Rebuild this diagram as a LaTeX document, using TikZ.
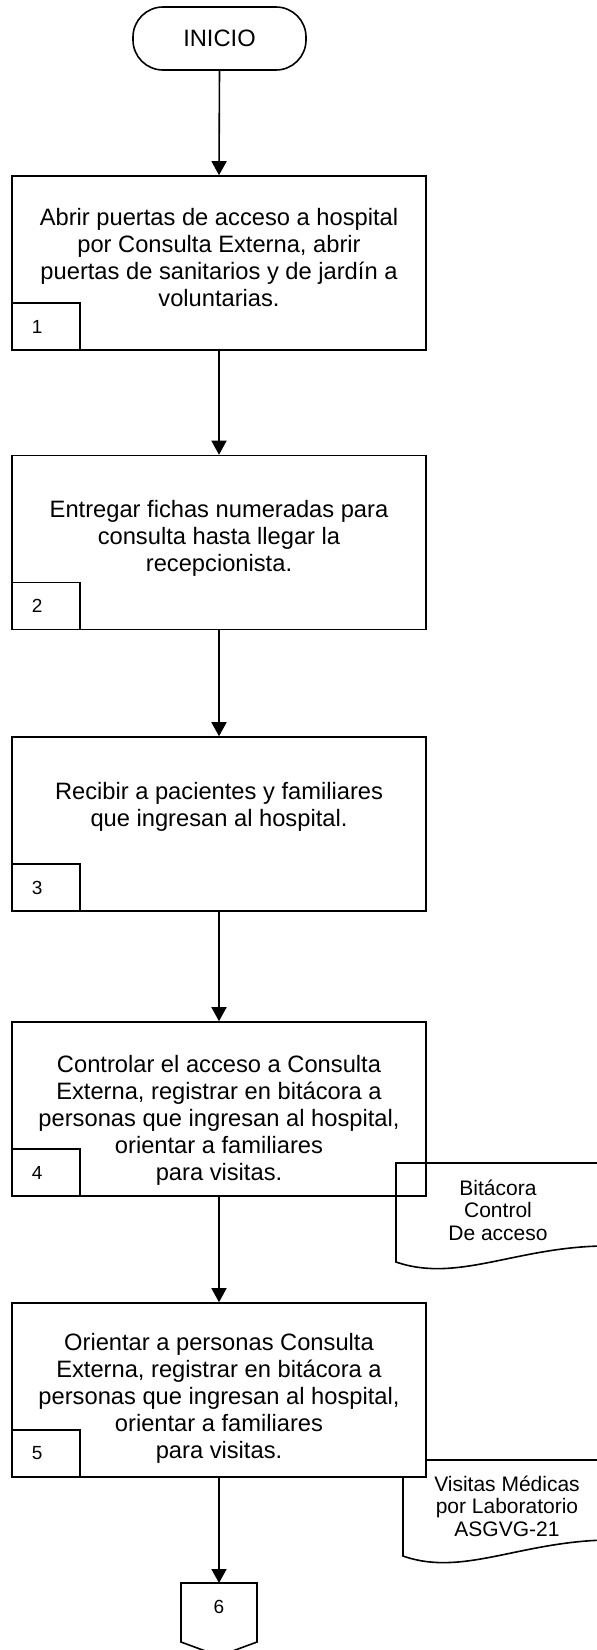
\documentclass[tikz,border=0pt]{standalone}
\usepackage{fontspec}
\setmainfont{Liberation Sans}
\usetikzlibrary{arrows.meta,calc}
\begin{document}
\begin{tikzpicture}[x=1pt,y=-1pt,
  line width=1.6pt,
  stepbox/.style={draw,rectangle,minimum width=414pt,minimum height=174pt,inner sep=0pt,fill=white},
  steptxt/.style={align=center,font=\fontsize{23.7}{27}\selectfont,inner sep=0pt},
  numbox/.style={draw,rectangle,minimum width=68pt,minimum height=47pt,inner sep=0pt},
  numtxt/.style={font=\fontsize{19}{22}\selectfont,inner sep=0pt},
  doctxt/.style={align=center,font=\fontsize{21}{22.5}\selectfont,inner sep=0pt},
  termbox/.style={draw,rectangle,rounded corners=30pt,minimum width=173pt,minimum height=63pt,inner sep=0pt,font=\fontsize{23.7}{27}\selectfont},
  arr/.style={-{Triangle[width=15pt,length=14pt]}},
]
\useasboundingbox (0,0) rectangle (597,1650);

% terminator
\node[termbox] (T) at (219.5,38.5) {INICIO};

% step 1
\node[stepbox] (B1) at (219,263) {};
\node[steptxt] (t1) at (219,258) {Abrir puertas de acceso a hospital\\por Consulta Externa, abrir\\puertas de sanitarios y de jardín a\\voluntarias.};
\node[numbox,anchor=south west] (n1) at (B1.south west) {};
\node[numtxt] at ($(n1.west)+(26,0)$) {1};

% step 2
\node[stepbox] (B2) at (219,542.5) {};
\node[steptxt] (t2) at (219,538.5) {Entregar fichas numeradas para\\consulta hasta llegar la\\recepcionista.};
\node[numbox,anchor=south west] (n2) at (B2.south west) {};
\node[numtxt] at ($(n2.west)+(26,0)$) {2};

% step 3
\node[stepbox] (B3) at (219,824) {};
\node[steptxt] (t3) at (219,806.5) {Recibir a pacientes y familiares\\que ingresan al hospital.};
\node[numbox,anchor=south west] (n3) at (B3.south west) {};
\node[numtxt] at ($(n3.west)+(26,0)$) {3};

% step 4
\node[stepbox] (B4) at (219,1109) {};
\node[steptxt] (t4) at (219,1120) {Controlar el acceso a Consulta\\Externa, registrar en bitácora a\\personas que ingresan al hospital,\\orientar a familiares\\para visitas.};
\node[numbox,anchor=south west] (n4) at (B4.south west) {};
\node[numtxt] at ($(n4.west)+(26,0)$) {4};

% document 1
\draw (396,1163) -- (615,1163) -- (615,1246)
  .. controls (520,1244) and (460,1284) .. (396,1262) -- cycle;
\node[doctxt] (d1) at (498,1210) {Bitácora\\Control\\De acceso};

% document 2 (behind step 5)
\draw (403,1460) -- (620,1460) -- (620,1540)
  .. controls (525,1538) and (465,1578) .. (403,1556) -- cycle;
\node[doctxt] (d2) at (507,1506) {Visitas Médicas\\por Laboratorio\\ASGVG-21};

% step 5
\node[stepbox] (B5) at (219,1390) {};
\node[steptxt] (t5) at (219,1398) {Orientar a personas Consulta\\Externa, registrar en bitácora a\\personas que ingresan al hospital,\\orientar a familiares\\para visitas.};
\node[numbox,anchor=south west] (n5) at (B5.south west) {};
\node[numtxt] at ($(n5.west)+(26,0)$) {5};

% off-page connector
\coordinate (C6) at (219,1583);
\draw (181,1583) -- (257,1583) -- (257,1642) -- (219,1656) -- (181,1642) -- cycle;
\node[numtxt] (c6) at (219,1607) {6};

% connectors
\draw[arr] (T.south) -- (B1.north);
\draw[arr] (B1.south) -- (B2.north);
\draw[arr] (B2.south) -- (B3.north);
\draw[arr] (B3.south) -- (B4.north);
\draw[arr] (B4.south) -- (B5.north);
\draw[arr] (B5.south) -- (C6);
\end{tikzpicture}
\end{document}
